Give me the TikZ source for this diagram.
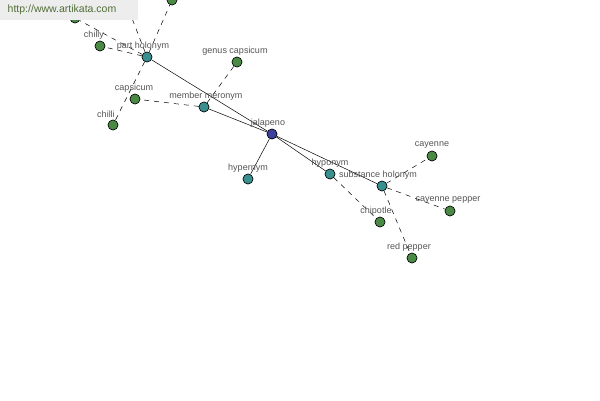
\documentclass[tikz,border=0pt]{standalone}
\usepackage{fontspec}
\setmainfont{Liberation Sans}
\definecolor{relc}{RGB}{58,143,143}
\definecolor{wordc}{RGB}{74,138,69}
\definecolor{rootc}{RGB}{60,64,158}
\definecolor{lblc}{RGB}{85,85,85}
\definecolor{wmc}{RGB}{80,110,55}
\begin{document}
\begin{tikzpicture}[x=1pt,y=-1pt,
  pt/.style={circle,draw=black,line width=0.5pt,minimum size=10pt,inner sep=0pt},
  rel/.style={pt,fill=relc},
  word/.style={pt,fill=wordc},
  root/.style={pt,fill=rootc},
  lbl/.style={font=\fontsize{9}{10}\selectfont,text=lblc,inner sep=0pt},
  solidedge/.style={draw=black,line width=0.5pt},
  dashedge/.style={draw=black,line width=0.5pt,dash pattern=on 5pt off 5pt}]
\useasboundingbox (0,0) rectangle (600,400);
\fill[white] (0,0) rectangle (600,400);
% nodes
\node[root] (jal) at (272,134) {};
\node[rel] (ph) at (147,57) {};
\node[rel] (mm) at (204,107) {};
\node[rel] (hyper) at (248,179) {};
\node[rel] (hypo) at (330,174) {};
\node[rel] (sh) at (382,186) {};
\node[word] (top) at (172,0) {};
\node[word] (hid) at (128,8) {};
\node[word] (ul) at (75,18) {};
\node[word] (chilly) at (100,46) {};
\node[word] (caps) at (135,99) {};
\node[word] (chilli) at (113,125) {};
\node[word] (genus) at (237,62) {};
\node[word] (cay) at (432,156) {};
\node[word] (caypep) at (450,211) {};
\node[word] (chip) at (380,222) {};
\node[word] (redp) at (412,258) {};
% edges
\path[solidedge] (jal) -- (ph) (jal) -- (mm) (jal) -- (hyper) (jal) -- (hypo) (jal) -- (sh);
\path[dashedge] (ph) -- (top) (ph) -- (hid) (ph) -- (ul) (ph) -- (chilly) (ph) -- (chilli);
\path[dashedge] (mm) -- (caps) (mm) -- (genus);
\path[dashedge] (hypo) -- (chip);
\path[dashedge] (sh) -- (cay) (sh) -- (caypep) (sh) -- (redp);
% redraw nodes on top
\foreach \n/\s in {jal/root,ph/rel,mm/rel,hyper/rel,hypo/rel,sh/rel,top/word,hid/word,ul/word,chilly/word,caps/word,chilli/word,genus/word,cay/word,caypep/word,chip/word,redp/word}
  \node[\s] at (\n) {};
% labels
\node[lbl] (l1) at (268,123) {jalapeno};
\node[lbl] (l2) at (143,46) {part holonym};
\node[lbl] (l3) at (206,96) {member meronym};
\node[lbl] (l4) at (248,168) {hypernym};
\node[lbl] (l5) at (330,163) {hyponym};
\node[lbl] (l6) at (378,175) {substance holonym};
\node[lbl] (l7) at (94,35) {chilly};
\node[lbl] (l8) at (134,88) {capsicum};
\node[lbl] (l9) at (106,114) {chilli};
\node[lbl] (l10) at (235,51) {genus capsicum};
\node[lbl] (l11) at (432,145) {cayenne};
\node[lbl] (l12) at (448,200) {cayenne pepper};
\node[lbl] (l13) at (376,211) {chipotle};
\node[lbl] (l14) at (409,247) {red pepper};
% watermark
\fill[black!7] (0,0) rectangle (138,20);
\node[font=\fontsize{10.5}{12}\selectfont,text=wmc,inner sep=0pt] (wm) at (62,10) {http://www.artikata.com};
\end{tikzpicture}
\end{document}
